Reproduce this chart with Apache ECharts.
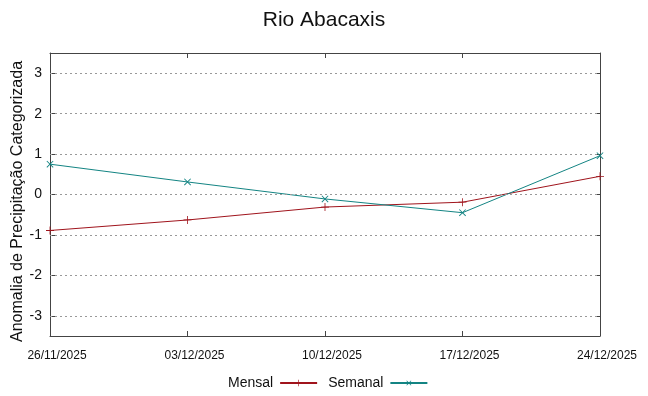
<!DOCTYPE html>
<html>
<head>
<meta charset="utf-8">
<script src="https://cdn.jsdelivr.net/npm/echarts@6/dist/echarts.min.js"></script>
<style>html,body{margin:0;padding:0;background:#fff}#c{width:648px;height:396px}</style>
</head>
<body>
<div id="c"></div>
<script>
const categories = ['26/11/2025', '03/12/2025', '10/12/2025', '17/12/2025', '24/12/2025'];
const mensal = [-0.89, -0.63, -0.31, -0.19, 0.45];
const semanal = [0.75, 0.31, -0.11, -0.45, 0.96];
const yTicks = [-3, -2, -1, 0, 1, 2, 3];
const titleText = 'Rio Abacaxis';
const yName = 'Anomalia de Precipitação Categorizada';

const plusPath = 'path://M4.5,0h1v10h-1z M0,4.5h10v1h-10z';
const axisColor = '#444';
const redC = '#a0141c';
const tealC = '#138483';

const chart = echarts.init(document.getElementById('c'));
chart.setOption({
  animation: false,
  backgroundColor: '#fff',
  title: {
    text: titleText, left: 'center', top: 5,
    textStyle: {fontFamily: 'Liberation Sans', fontSize: 21, fontWeight: 'normal', color: '#111'}
  },
  legend: {
    bottom: 1, left: 223, align: 'right',
    itemWidth: 37, itemHeight: 8, itemGap: 10,
    textStyle: {fontFamily: 'Liberation Sans', fontSize: 14, color: '#111', padding: [0, 2, 0, 0]},
    data: ['Mensal', 'Semanal']
  },
  grid: {left: 50, right: 48, top: 53, bottom: 60, containLabel: false, outerBoundsMode: 'none'},
  xAxis: [{
    type: 'category', data: categories, boundaryGap: false, position: 'bottom',
    axisLine: {onZero: false, lineStyle: {color: axisColor, width: 1}},
    axisTick: {inside: true, length: 5, lineStyle: {color: axisColor}},
    axisLabel: {fontFamily: 'Liberation Sans', fontSize: 12, color: '#111', margin: 14, interval: 0,
      padding: [0, 0, 0, 14]},
    splitLine: {show: false}
  }, {
    type: 'category', data: categories, boundaryGap: false, position: 'top',
    axisLine: {onZero: false, lineStyle: {color: axisColor, width: 1}},
    axisTick: {inside: true, length: 5, lineStyle: {color: axisColor}},
    axisLabel: {show: false}, splitLine: {show: false}
  }],
  yAxis: [{
    type: 'value', min: -3.5, max: 3.5, interval: 0.5,
    name: yName, nameLocation: 'middle', nameGap: 24, nameMoveOverlap: false,
    nameTextStyle: {fontFamily: 'Liberation Sans', fontSize: 16, color: '#111', padding: [0, 14, 0, 0]},
    axisLine: {show: true, onZero: false, lineStyle: {color: axisColor, width: 1}},
    axisTick: {show: true, inside: true, length: 5, lineStyle: {color: axisColor}, customValues: yTicks},
    axisLabel: {fontFamily: 'Liberation Sans', fontSize: 14, color: '#111', margin: 8, customValues: yTicks,
      formatter: v => String(v)},
    splitLine: {show: false}
  }, {
    type: 'value', min: -3.5, max: 3.5, interval: 0.5, position: 'right',
    axisLine: {show: true, onZero: false, lineStyle: {color: axisColor, width: 1}},
    axisTick: {show: true, inside: true, length: 5, lineStyle: {color: axisColor}, customValues: yTicks},
    axisLabel: {show: false},
    splitLine: {show: false}
  }],
  series: [{
    name: 'Mensal', type: 'line', data: mensal,
    xAxisIndex: 0, yAxisIndex: 0,
    symbol: plusPath, symbolSize: 8, showSymbol: true,
    lineStyle: {color: redC, width: 1},
    itemStyle: {color: redC},
    markLine: {
      silent: true, symbol: 'none', label: {show: false},
      lineStyle: {color: '#999', type: [2, 3], width: 1},
      data: yTicks.map(v => ({yAxis: v}))
    },
    z: 3
  }, {
    name: 'Semanal', type: 'line', data: semanal,
    xAxisIndex: 0, yAxisIndex: 0,
    symbol: plusPath, symbolRotate: 45, symbolSize: 9, showSymbol: true,
    lineStyle: {color: tealC, width: 1},
    itemStyle: {color: tealC},
    z: 4
  }]
});
</script>
</body>
</html>
